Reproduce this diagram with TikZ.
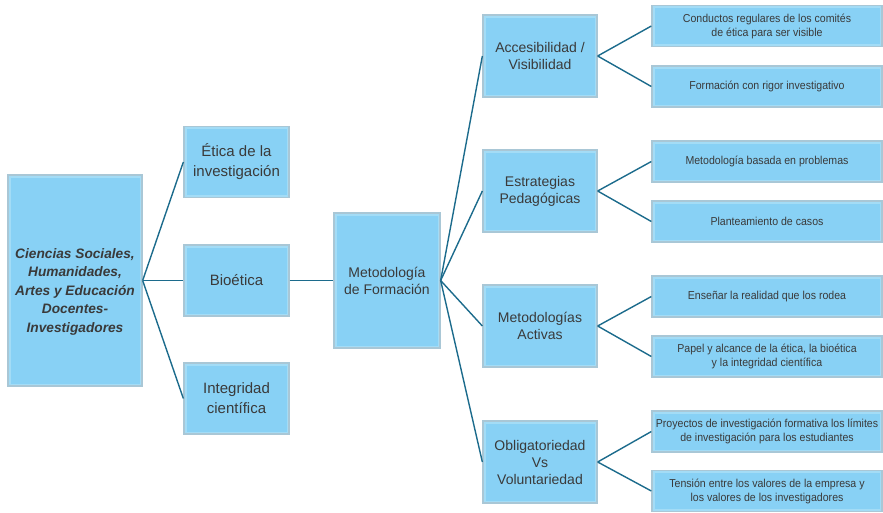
\documentclass[tikz,border=0pt]{standalone}
\usepackage{fontspec}
\setmainfont{Liberation Sans}
\newfontfamily\narrowfont[FakeStretch=0.92]{Liberation Sans}
\begin{document}
\begin{tikzpicture}[x=1pt,y=-1pt,
  box/.style={draw=boxedge, line width=1.3pt, fill=boxbg, align=center,
    text=boxtext, inner sep=2pt,
    path picture={\draw[draw=boxglow, line width=5pt]
      (path picture bounding box.south west) rectangle (path picture bounding box.north east);}},
  rootbox/.style={box, minimum width=134pt, minimum height=211pt},
  roottext/.style={align=center, text=boxtext,
    font=\fontsize{13.7}{18.5}\selectfont\bfseries\itshape},
  midbox/.style={box, minimum width=105pt, minimum height=71pt,
    font=\fontsize{15}{20}\selectfont},
  hubbox/.style={box, minimum width=106pt, minimum height=135pt,
    font=\fontsize{14}{17}\selectfont},
  topicbox/.style={box, minimum width=114pt, minimum height=82pt,
    font=\fontsize{14}{17}\selectfont},
  leafbox/.style={box, minimum width=230pt, minimum height=41pt,
    font=\narrowfont\fontsize{11.5}{14}\selectfont},
  link/.style={draw=linkcol, line width=1.4pt}
]
\definecolor{boxbg}{HTML}{88D1F5}
\definecolor{boxglow}{HTML}{A3DCF6}
\definecolor{boxedge}{HTML}{A9C7D6}
\definecolor{boxtext}{HTML}{3A3A3A}
\definecolor{linkcol}{HTML}{1C6B8C}

\useasboundingbox (0,0) rectangle (883,512);

% root box, its caption sits a little below the middle
\node[rootbox, label={[roottext, yshift=-11pt]center:Ciencias Sociales,\\Humanidades,\\Artes y Educación\\Docentes-\\Investigadores}]
  (root) at (75,280.5) {};

% first level
\node[midbox] (etica) at (236.5,162) {Ética de la\\investigación};
\node[midbox] (bio) at (236.5,280.5) {Bioética};
\node[midbox] (integ) at (236.5,398.5) {Integridad\\científica};

% hub
\node[hubbox] (hub) at (387,280.5) {Metodología\\de Formación};

% topics
\node[topicbox] (acc) at (540,56) {Accesibilidad /\\Visibilidad};
\node[topicbox] (est) at (540,191) {Estrategias\\Pedagógicas};
\node[topicbox] (act) at (540,326) {Metodologías\\Activas};
\node[topicbox] (obl) at (540,462) {Obligatoriedad\\Vs\\Voluntariedad};

% leaves
\node[leafbox] (l1) at (767,26) {Conductos regulares de los comités\\de ética para ser visible};
\node[leafbox] (l2) at (767,86.5) {Formación con rigor investigativo};
\node[leafbox] (l3) at (767,161.5) {Metodología basada en problemas};
\node[leafbox] (l4) at (767,221.5) {Planteamiento de casos};
\node[leafbox] (l5) at (767,296.5) {Enseñar la realidad que los rodea};
\node[leafbox] (l6) at (767,356.5) {Papel y alcance de la ética, la bioética\\y la integridad científica};
\node[leafbox] (l7) at (767,431.5) {Proyectos de investigación formativa los límites\\de investigación para los estudiantes};
\node[leafbox] (l8) at (767,491) {Tensión entre los valores de la empresa y\\los valores de los investigadores};

% connectors
\foreach \t in {etica,bio,integ} \draw[link] (root.east) -- (\t.west);
\draw[link] (bio.east) -- (hub.west);
\foreach \t in {acc,est,act,obl} \draw[link] (hub.east) -- (\t.west);
\draw[link] (acc.east) -- (l1.west);
\draw[link] (acc.east) -- (l2.west);
\draw[link] (est.east) -- (l3.west);
\draw[link] (est.east) -- (l4.west);
\draw[link] (act.east) -- (l5.west);
\draw[link] (act.east) -- (l6.west);
\draw[link] (obl.east) -- (l7.west);
\draw[link] (obl.east) -- (l8.west);
\end{tikzpicture}
\end{document}
